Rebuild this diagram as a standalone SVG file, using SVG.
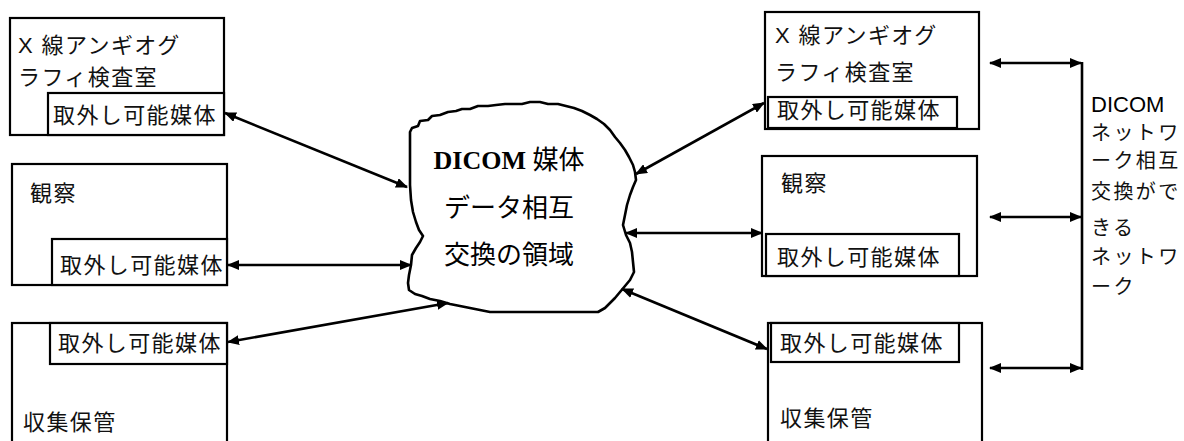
<svg xmlns="http://www.w3.org/2000/svg" width="1184" height="441" viewBox="0 0 1184 441">
<style>
.box{fill:#fff;stroke:#000;stroke-width:2.2}
.t{font-family:"Liberation Sans","Noto Sans CJK JP",sans-serif;font-size:22px;letter-spacing:1.4px;fill:#111}
.c{font-family:"Liberation Serif","Noto Sans CJK JP",serif;font-size:26px;font-weight:normal;fill:#000}
.cb{font-weight:bold}
.n{font-family:"Liberation Sans","Noto Sans CJK JP",sans-serif;font-size:20px;letter-spacing:2.4px;fill:#111}
.nd{font-family:"Liberation Sans",sans-serif;font-size:22px;fill:#000}
.ln{stroke:#000;stroke-width:2.6;fill:none;marker-start:url(#ah);marker-end:url(#ah)}
</style>
<defs>
<marker id="ah" viewBox="0 0 12 10" refX="11" refY="5" markerWidth="12" markerHeight="10" markerUnits="userSpaceOnUse" orient="auto-start-reverse">
<path d="M0,0 L12,5 L0,10 z" fill="#000"/>
</marker>
</defs>
<rect width="1184" height="441" fill="#fff"/>
<g id="left1">
<rect class="box" x="10" y="18" width="214" height="117"/>
<text class="t" x="18" y="53">X 線アンギオグ</text>
<text class="t" x="18" y="85">ラフィ検査室</text>
<rect class="box" x="48" y="93" width="176" height="42"/>
<text class="t" x="53" y="123">取外し可能媒体</text>
</g>
<g id="left2">
<rect class="box" x="12" y="164" width="215" height="121"/>
<text class="t" x="30" y="201">観察</text>
<rect class="box" x="52" y="239" width="175" height="46"/>
<text class="t" x="60" y="273">取外し可能媒体</text>
</g>
<g id="left3">
<rect class="box" x="12" y="323" width="215" height="130"/>
<rect class="box" x="50" y="323" width="177" height="41"/>
<text class="t" x="58" y="351">取外し可能媒体</text>
<text class="t" x="23" y="430">収集保管</text>
</g>
<g id="cloud">
<path d="M410,132 L412,128 418,126 420,121 428,120 432,116 440,115 448,112 456,111 462,109 470,109 478,106 488,106 496,105 505,104 512,104 522,104 530,102 540,102 548,104 558,104 566,106 574,108 582,111 590,115 597,119 604,124 610,130 615,137 620,143 625,150 629,157 633,165 635,172 636,180 633,187 630,195 627,205 625,215 623,225 626,235 630,243 632,252 633,262 634,272 630,280 625,286 620,292 615,298 610,303 605,308 598,312 585,312 560,312 530,312 490,312 480,310 470,308 460,306 450,304 440,301 430,299 422,296 415,294 409,290 408,283 409,275 411,265 412,255 416,248 420,242 423,236 419,230 416,222 413,212 411,200 410,185 410,160 Z" fill="#fff" stroke="#000" stroke-width="2.6" stroke-linejoin="round"/>
<text class="c" x="509" y="169" text-anchor="middle"><tspan class="cb">DICOM</tspan> 媒体</text>
<text class="c" x="509" y="217" text-anchor="middle">データ相互</text>
<text class="c" x="509" y="264" text-anchor="middle">交換の領域</text>
</g>
<g id="right1">
<rect class="box" x="765" y="12" width="214" height="117"/>
<text class="t" x="775" y="43">X 線アンギオグ</text>
<text class="t" x="775" y="80">ラフィ検査室</text>
<rect class="box" x="768" y="97" width="189" height="31"/>
<text class="t" x="777" y="118">取外し可能媒体</text>
</g>
<g id="right2">
<rect class="box" x="762" y="156" width="215" height="120"/>
<text class="t" x="781" y="191">観察</text>
<rect class="box" x="766" y="234" width="193" height="42"/>
<text class="t" x="777" y="265">取外し可能媒体</text>
</g>
<g id="right3">
<rect class="box" x="768" y="323" width="214" height="130"/>
<rect class="box" x="771" y="323" width="188" height="39"/>
<text class="t" x="780" y="351">取外し可能媒体</text>
<text class="t" x="780" y="426">収集保管</text>
</g>
<g id="network">
<line x1="1082" y1="62" x2="1082" y2="370" stroke="#000" stroke-width="2.6"/>
<text class="nd" x="1091" y="112">DICOM</text>
<text class="n" x="1091" y="140">ネットワ</text>
<text class="n" x="1091" y="168">ーク相互</text>
<text class="n" x="1091" y="199">交換がで</text>
<text class="n" x="1091" y="235">きる</text>
<text class="n" x="1091" y="264">ネットワ</text>
<text class="n" x="1091" y="294">ーク</text>
</g>
<g id="connectors">
<line class="ln" x1="225" y1="113" x2="407" y2="187"/>
<line class="ln" x1="228" y1="265" x2="411" y2="265"/>
<line class="ln" x1="228" y1="342" x2="448" y2="303"/>
<line class="ln" x1="636" y1="174" x2="764" y2="103"/>
<line class="ln" x1="626" y1="233" x2="762" y2="233"/>
<line class="ln" x1="622" y1="289" x2="767" y2="349"/>
<line class="ln" x1="990" y1="63" x2="1081" y2="63"/>
<line class="ln" x1="990" y1="217" x2="1081" y2="217"/>
<line class="ln" x1="990" y1="368" x2="1081" y2="368"/>
</g>
</svg>
